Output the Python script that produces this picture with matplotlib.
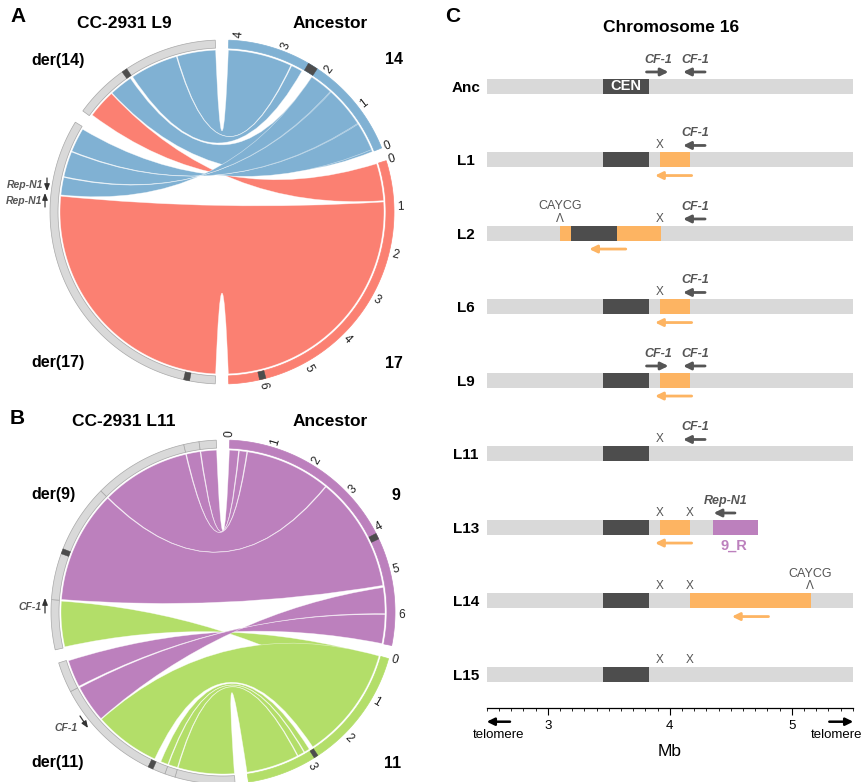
import numpy as np
import matplotlib.pyplot as plt
from matplotlib.path import Path
from matplotlib.patches import PathPatch, Polygon
from matplotlib.ticker import MultipleLocator

plt.rcParams['font.family'] = ['Liberation Sans', 'DejaVu Sans']

BLUE, RED, PURPLE, GREEN = '#80B1D3', '#FB8072', '#BC80BD', '#B3DE69'
ORANGE, GREY, DARK, TXT = '#FDB462', '#D9D9D9', '#4D4D4D', '#555555'

# ---------------- panel A: CC-2931 L9 (chromosomes 14 / 17) ----------------
a_sectors = ['14', '17', 'der(17)', 'der(14)']
a_lengths = [4.2, 6.7, 7.6, 3.3]
a_reverse = [True, False, False, False]
a_fill = [BLUE, RED, GREY, GREY]
a_ticks = [[0, 1, 2, 3, 4], [0, 1, 2, 3, 4, 5, 6], [], []]
a_cen = [(2.2, 2.42), (5.9, 6.04), (0.55, 0.68), (1.18, 1.3)]
a_breaks = [[], [], [], []]
# (sector, start, end, sector, start, end, colour, twisted)
a_links = [
    ('der(14)', 0.72, 1.25, '14', 0.00, 2.20, BLUE, False),
    ('der(14)', 2.42, 3.30, '14', 2.74, 4.20, BLUE, False),
    ('der(14)', 1.31, 2.40, '14', 2.46, 2.72, BLUE, False),
    ('der(14)', 0.05, 0.70, '17', 0.00, 0.85, RED, True),
    ('der(17)', 7.00, 7.55, '14', 0.05, 0.70, BLUE, True),
    ('der(17)', 6.40, 6.98, '14', 0.72, 1.65, BLUE, True),
    ('der(17)', 5.98, 6.38, '14', 1.67, 2.20, BLUE, True),
    ('der(17)', 0.00, 5.95, '17', 0.88, 6.70, RED, False),
]

# ---------------- panel B: CC-2931 L11 (chromosomes 9 / 11) ----------------
b_sectors = ['9', '11', 'der(11)', 'der(9)']
b_lengths = [6.7, 4.45, 5.2, 6.8]
b_reverse = [False, False, False, False]
b_fill = [PURPLE, GREEN, GREY, GREY]
b_ticks = [[0, 1, 2, 3, 4, 5, 6], [0, 1, 2, 3], [], []]
b_cen = [(4.1, 4.24), (2.76, 2.86), (1.9, 2.02), (2.2, 2.32)]
b_breaks = [[], [], [1.37, 1.61, 4.5], [1.14, 3.89, 6.06, 6.41]]
b_links = [
    ('der(9)', 6.42, 6.80, '9', 0.00, 0.22, PURPLE, False),
    ('der(9)', 6.07, 6.40, '9', 0.24, 0.42, PURPLE, False),
    ('der(9)', 3.90, 6.05, '9', 0.44, 2.50, PURPLE, False),
    ('der(9)', 1.16, 3.88, '9', 2.52, 5.30, PURPLE, False),
    ('der(9)', 0.02, 1.12, '11', 0.02, 1.00, GREEN, True),
    ('der(11)', 4.52, 5.18, '9', 6.00, 6.70, PURPLE, True),
    ('der(11)', 3.58, 4.48, '9', 5.35, 5.98, PURPLE, True),
    ('der(11)', 1.96, 3.56, '11', 0.00, 2.75, GREEN, False),
    ('der(11)', 1.62, 1.80, '11', 2.85, 2.98, GREEN, False),
    ('der(11)', 1.38, 1.60, '11', 3.00, 3.16, GREEN, False),
    ('der(11)', 0.00, 1.36, '11', 3.18, 4.45, GREEN, False),
]

# ---------------- panel C: chromosome 16 ----------------
rows = ['Anc', 'L1', 'L2', 'L6', 'L9', 'L11', 'L13', 'L14', 'L15']
chrom_end = [5.5, 5.5, 5.5, 5.5, 5.5, 5.5, 4.72, 5.5, 5.5]
cen_start = [3.45, 3.45, 3.19, 3.45, 3.45, 3.45, 3.45, 3.45, 3.45]
cen_end = [3.83, 3.83, 3.57, 3.83, 3.83, 3.83, 3.83, 3.83, 3.83]
dup_rows = ['L1', 'L2', 'L2', 'L6', 'L9', 'L13', 'L14']
dup_start = [3.92, 3.10, 3.57, 3.92, 3.92, 3.92, 4.17]
dup_end = [4.17, 3.19, 3.93, 4.17, 4.17, 4.17, 5.155]
dup_arrow_rows = ['L1', 'L2', 'L6', 'L9', 'L13', 'L14']
dup_arrow_tail = [4.18, 3.64, 4.18, 4.18, 4.18, 4.81]
dup_arrow_head = [3.88, 3.34, 3.88, 3.88, 3.88, 4.51]
ins_rows, ins_start, ins_end, ins_label = ['L13'], [4.355], [4.72], ['9_R']
x_rows = ['L1', 'L2', 'L6', 'L11', 'L13', 'L13', 'L14', 'L14', 'L15', 'L15']
x_pos = [3.92, 3.92, 3.92, 3.92, 3.92, 4.16, 3.92, 4.16, 3.92, 4.16]
gene_rows = ['Anc', 'Anc', 'L1', 'L2', 'L6', 'L9', 'L9', 'L11', 'L13']
gene_name = ['CF-1'] * 8 + ['Rep-N1']
gene_tail = [3.81, 4.29, 4.29, 4.29, 4.29, 3.81, 4.29, 4.29, 4.535]
gene_head = [3.99, 4.11, 4.11, 4.11, 4.11, 3.99, 4.11, 4.11, 4.36]
motif_rows, motif_pos = ['L2', 'L14'], [3.10, 5.15]

W, H = 864, 782
fig = plt.figure(figsize=(W / 100, H / 100), dpi=100)
cv = fig.add_axes([0, 0, 1, 1])
cv.set_xlim(0, W)
cv.set_ylim(H, 0)
cv.axis('off')

R_OUT, R_IN, R_LINK = 172, 164, 162


def polar(cx, cy, r, th):
    t = np.radians(th)
    return cx + r * np.sin(t), cy - r * np.cos(t)


def band(cx, cy, r0, r1, t0, t1, **kw):
    ts = np.linspace(t0, t1, 80)
    xo, yo = polar(cx, cy, r1, ts)
    xi, yi = polar(cx, cy, r0, ts[::-1])
    pts = np.column_stack([np.r_[xo, xi], np.r_[yo, yi]])
    cv.add_patch(Polygon(pts, closed=True, **kw))


def ribbon(cx, cy, a, b, color, twisted):
    a1, a2 = sorted(a)
    b1, b2 = sorted(b)
    if twisted:
        b1, b2 = b2, b1
    ta = np.linspace(a1, a2, 60)
    tb = np.linspace(b1, b2, 60)
    xa, ya = polar(cx, cy, R_LINK, ta)
    xb, yb = polar(cx, cy, R_LINK, tb)
    verts = list(zip(xa, ya)) + [(cx, cy), (xb[0], yb[0])] + list(zip(xb[1:], yb[1:])) \
        + [(cx, cy), (xa[0], ya[0])]
    codes = [Path.MOVETO] + [Path.LINETO] * 59 + [Path.CURVE3] * 2 + [Path.LINETO] * 59 \
        + [Path.CURVE3] * 2
    cv.add_patch(PathPatch(Path(verts, codes), fc=color, ec=(1, 1, 1, 0.55), lw=0.45))


def circos(cx, cy, names, lengths, reverse, fills, ticks, cens, breaks, links, gap=4.5, start=2.25):
    k = (360 - gap * len(lengths)) / sum(lengths)
    starts = []
    t = start
    for L in lengths:
        starts.append(t)
        t += L * k + gap

    def theta(i, pos):
        return starts[i] + ((lengths[i] - pos) if reverse[i] else pos) * k

    for i, name in enumerate(names):
        edges = [0] + breaks[i] + [lengths[i]]
        for p, q in zip(edges[:-1], edges[1:]):
            ec = '#A8A8A8' if fills[i] == GREY else fills[i]
            band(cx, cy, R_IN, R_OUT, theta(i, p), theta(i, q), fc=fills[i], ec=ec, lw=0.5)
        c0, c1 = cens[i]
        band(cx, cy, R_IN, R_OUT, theta(i, c0), theta(i, c1), fc=DARK, ec=DARK, lw=0.3)
        for tk in ticks[i]:
            th = theta(i, tk)
            x, y = polar(cx, cy, R_OUT + 3, th)
            cv.text(x, y, str(tk), fontsize=8.5, ha='left', va='center', rotation=90 - th,
                    rotation_mode='anchor', color='#222222')
    for s1, p1, q1, s2, p2, q2, col, tw in links:
        i, j = names.index(s1), names.index(s2)
        ribbon(cx, cy, (theta(i, p1), theta(i, q1)), (theta(j, p2), theta(j, q2)), col, tw)


circos(222, 212, a_sectors, a_lengths, a_reverse, a_fill, a_ticks, a_cen, a_breaks, a_links)
circos(223, 612, b_sectors, b_lengths, b_reverse, b_fill, b_ticks, b_cen, b_breaks, b_links)

bold = dict(fontweight='bold', va='center')
cv.text(10, 17, 'A', fontsize=15, ha='left', **bold)
cv.text(124.5, 23, 'CC-2931 L9', fontsize=12.5, ha='center', **bold)
cv.text(330, 23, 'Ancestor', fontsize=12.5, ha='center', **bold)
cv.text(31, 60, 'der(14)', fontsize=11.5, ha='left', **bold)
cv.text(394.5, 60, '14', fontsize=11.5, ha='center', **bold)
cv.text(31, 363, 'der(17)', fontsize=11.5, ha='left', **bold)
cv.text(394, 363, '17', fontsize=11.5, ha='center', **bold)
cv.text(10, 418, 'B', fontsize=15, ha='left', **bold)
cv.text(123.5, 422, 'CC-2931 L11', fontsize=12.5, ha='center', **bold)
cv.text(330, 422, 'Ancestor', fontsize=12.5, ha='center', **bold)
cv.text(31, 495, 'der(9)', fontsize=11.5, ha='left', **bold)
cv.text(396, 495, '9', fontsize=11.5, ha='center', **bold)
cv.text(31, 763, 'der(11)', fontsize=11.5, ha='left', **bold)
cv.text(393, 763, '11', fontsize=11.5, ha='center', **bold)
cv.text(445, 17, 'C', fontsize=15, ha='left', **bold)
cv.text(671, 28, 'Chromosome 16', fontsize=12.5, ha='center', **bold)

small = dict(fontsize=7.5, style='italic', fontweight='bold', color=TXT, ha='right', va='center')
thin_arrow = dict(arrowstyle='-|>,head_length=0.5,head_width=0.2', color='#333333', lw=0.9,
                  shrinkA=0, shrinkB=0, mutation_scale=8)
cv.text(43, 185, 'Rep-N1', **small)
cv.annotate('', xy=(47, 191), xytext=(47, 178), arrowprops=thin_arrow)
cv.text(42, 201.5, 'Rep-N1', **small)
cv.annotate('', xy=(45, 193), xytext=(45, 207), arrowprops=thin_arrow)
cv.text(42, 606.5, 'CF-1', **small)
cv.annotate('', xy=(45, 598), xytext=(45, 613), arrowprops=thin_arrow)
cv.text(78, 728, 'CF-1', **small)
cv.annotate('', xy=(88, 728), xytext=(80, 716), arrowprops=thin_arrow)

# ---------------- panel C drawing ----------------
axC = fig.add_axes([486.7 / W, 1 - 707.7 / H, 366 / W, (707.7 - 34.85) / H])
axC.patch.set_alpha(0)
axC.set_xlim(2.5, 5.5)
axC.set_ylim(8.454, -0.7)
ypos = {r: i for i, r in enumerate(rows)}
bh = 0.204

axC.barh(range(len(rows)), np.array(chrom_end) - 2.5, left=2.5, height=bh, color=GREY)
axC.barh(range(len(rows)), np.array(cen_end) - np.array(cen_start), left=cen_start,
         height=bh, color=DARK)
axC.barh([ypos[r] for r in dup_rows], np.array(dup_end) - np.array(dup_start), left=dup_start,
         height=bh, color=ORANGE)
axC.barh([ypos[r] for r in ins_rows], np.array(ins_end) - np.array(ins_start), left=ins_start,
         height=bh, color=PURPLE)
axC.text((cen_start[0] + cen_end[0]) / 2, 0, 'CEN', color='white', fontsize=10.5,
         fontweight='bold', ha='center', va='center')
for r, s, e, lab in zip(ins_rows, ins_start, ins_end, ins_label):
    axC.text((s + e) / 2 - 0.01, ypos[r] + 0.25, lab, color=PURPLE, fontsize=10.5,
             fontweight='bold', ha='center', va='center')

arrow_kw = dict(arrowstyle='-|>,head_length=0.45,head_width=0.22', lw=2, shrinkA=0, shrinkB=0)
for r, t0, t1 in zip(dup_arrow_rows, dup_arrow_tail, dup_arrow_head):
    axC.annotate('', xy=(t1, ypos[r] + 0.214), xytext=(t0, ypos[r] + 0.214),
                 arrowprops=dict(color=ORANGE, **arrow_kw))
for r, g, t0, t1 in zip(gene_rows, gene_name, gene_tail, gene_head):
    axC.annotate('', xy=(t1, ypos[r] - 0.195), xytext=(t0, ypos[r] - 0.195),
                 arrowprops=dict(color=TXT, **arrow_kw))
    axC.text((t0 + t1) / 2 + 0.01, ypos[r] - 0.36, g, fontsize=9, style='italic',
             fontweight='bold', color=TXT, ha='center', va='center')
for r, x in zip(x_rows, x_pos):
    axC.text(x, ypos[r] - 0.2, 'X', fontsize=8.5, color=TXT, ha='center', va='center')
for r, x in zip(motif_rows, motif_pos):
    axC.text(x, ypos[r] - 0.2, 'Λ', fontsize=8.5, color=TXT, ha='center', va='center')
    axC.text(x, ypos[r] - 0.365, 'CAYCG', fontsize=9, color=TXT, ha='center', va='center')

for side in ['top', 'right', 'left']:
    axC.spines[side].set_visible(False)
axC.spines['bottom'].set_linewidth(0.9)
axC.set_xticks([3, 4, 5])
axC.xaxis.set_minor_locator(MultipleLocator(0.1))
axC.tick_params(axis='x', which='major', length=5, width=0.8, labelsize=9.5, pad=3.5)
axC.tick_params(axis='x', which='minor', length=2.5, width=0.6)
axC.set_yticks(range(len(rows)), rows)
axC.tick_params(axis='y', length=0, pad=14.9, labelsize=11)
for lbl in axC.get_yticklabels():
    lbl.set_ha('center')
    lbl.set_fontweight('bold')

tel_arrow = dict(arrowstyle='-|>,head_length=0.45,head_width=0.22', lw=1.8, color='black',
                 shrinkA=0, shrinkB=0)
cv.annotate('', xy=(486.7, 721.7), xytext=(510, 721.7), arrowprops=tel_arrow)
cv.annotate('', xy=(853.3, 721.7), xytext=(829.3, 721.7), arrowprops=tel_arrow)
cv.text(498.3, 734.5, 'telomere', fontsize=9.5, ha='center', va='center')
cv.text(862, 734.5, 'telomere', fontsize=9.5, ha='right', va='center')
cv.text(670, 752, 'Mb', fontsize=12.5, ha='center', va='center')

fig.savefig('out.png', dpi=100)
